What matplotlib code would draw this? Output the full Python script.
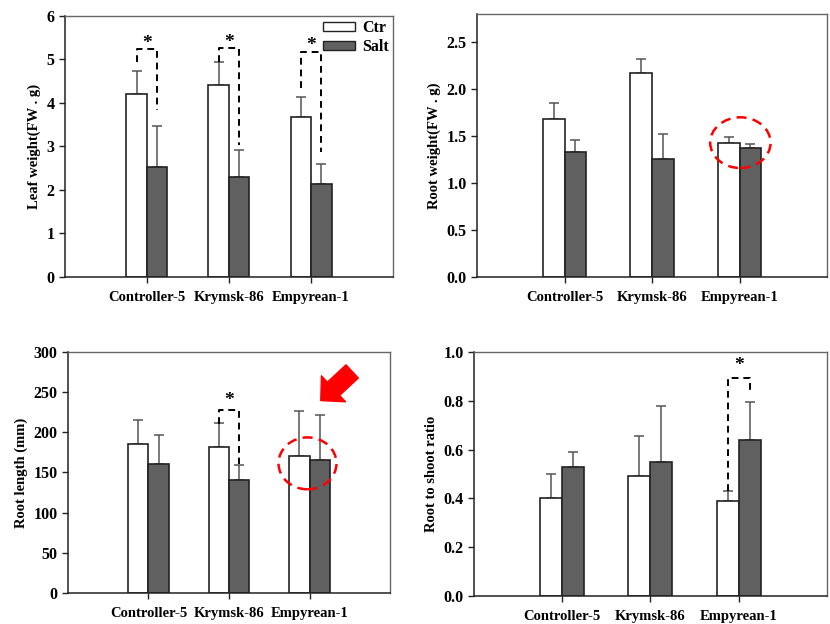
import numpy as np
import matplotlib.pyplot as plt
from matplotlib.patches import Ellipse, Patch

plt.rcParams['font.family'] = ['Liberation Serif', 'DejaVu Serif']
plt.rcParams['font.weight'] = 'bold'

cultivars = ['Controller-5', 'Krymsk-86', 'Empyrean-1']
treatments = ['Ctr', 'Salt']

# leaf weight (FW g)
leaf_ctr = [4.20, 4.41, 3.67]
leaf_ctr_sd = [0.54, 0.54, 0.47]
leaf_salt = [2.53, 2.30, 2.14]
leaf_salt_sd = [0.95, 0.61, 0.46]

# root weight (FW g)
rootw_ctr = [1.68, 2.17, 1.43]
rootw_ctr_sd = [0.17, 0.15, 0.06]
rootw_salt = [1.33, 1.26, 1.37]
rootw_salt_sd = [0.13, 0.26, 0.05]

# root length (mm)
rootl_ctr = [185, 182, 170]
rootl_ctr_sd = [30, 29, 57]
rootl_salt = [161, 141, 166]
rootl_salt_sd = [36, 18, 56]

# root to shoot ratio
ratio_ctr = [0.40, 0.49, 0.39]
ratio_ctr_sd = [0.10, 0.165, 0.042]
ratio_salt = [0.527, 0.55, 0.641]
ratio_salt_sd = [0.065, 0.229, 0.153]

# significance brackets: (group, left bottom, top, right bottom)
leaf_sig = [(0, 4.94, 5.24, 3.84), (1, 4.95, 5.26, 3.03), (2, 4.34, 5.18, 2.88)]
rootl_sig = [(1, 210, 227.6, 161)]
ratio_sig = [(2, 0.432, 0.894, 0.83)]

x = np.arange(1, 4)
w = 0.25
salt_color = '#606060'
err_color = '#555555'


def draw_panel(ax, ctr, ctr_sd, salt, salt_sd, ylim, yticks, fmt, ylabel):
    ax.bar(x - w / 2, ctr, w, color='white', edgecolor='#222222', linewidth=1.2,
           label='Ctr', zorder=2)
    ax.bar(x + w / 2, salt, w, color=salt_color, edgecolor='#222222', linewidth=1.2,
           label='Salt', zorder=2)
    ax.errorbar(x - w / 2, ctr, yerr=[np.zeros(3), ctr_sd], fmt='none',
                ecolor=err_color, elinewidth=1.1, capsize=3.6, capthick=1.1, zorder=1)
    ax.errorbar(x + w / 2, salt, yerr=[np.zeros(3), salt_sd], fmt='none',
                ecolor=err_color, elinewidth=1.1, capsize=3.6, capthick=1.1, zorder=1)
    ax.set_xlim(0, 4)
    ax.set_ylim(*ylim)
    ax.set_yticks(yticks)
    ax.set_yticklabels([fmt.format(t) for t in yticks])
    ax.set_xticks(x)
    ax.set_xticklabels(cultivars)
    ax.tick_params(axis='both', direction='out', length=4, width=1, labelsize=11.5,
                   color='#222222')
    ax.tick_params(axis='x', pad=6, labelsize=10.5)
    ax.set_ylabel(ylabel, fontsize=10.5, fontweight='bold')
    for s in ['left', 'bottom']:
        ax.spines[s].set_color('#222222')
        ax.spines[s].set_linewidth(1.1)
    for s in ['top', 'right']:
        ax.spines[s].set_color('#666666')
        ax.spines[s].set_linewidth(1.0)


def draw_sig(ax, sigs, star_off):
    for g, yl, yt, yr in sigs:
        xl = x[g] - w / 2
        xr = x[g] + w / 2
        ax.plot([xl, xl, xr, xr], [yl, yt, yt, yr], color='black', lw=1.4,
                linestyle=(0, (3.5, 2.5)), zorder=3)
        ax.text((xl + xr) / 2, yt + star_off, '*', ha='center', va='center',
                fontsize=14, fontweight='bold')


fig = plt.figure(figsize=(8.3, 6.24), dpi=100)
ax1 = fig.add_axes([0.0783, 0.5561, 0.3952, 0.4183])
ax2 = fig.add_axes([0.5747, 0.5561, 0.4217, 0.4215])
ax3 = fig.add_axes([0.0819, 0.0497, 0.388, 0.3862])
ax4 = fig.add_axes([0.571, 0.0449, 0.4253, 0.391])

draw_panel(ax1, leaf_ctr, leaf_ctr_sd, leaf_salt, leaf_salt_sd, (0, 6),
           np.arange(0, 7, 1), '{:.0f}', 'Leaf weight(FW . g)')
draw_sig(ax1, leaf_sig, 0.13)
handles = [Patch(facecolor='white', edgecolor='#222222', label='Ctr'),
           Patch(facecolor=salt_color, edgecolor='#222222', label='Salt')]
ax1.legend(handles=handles, loc='upper right', bbox_to_anchor=(1.0, 1.0),
           frameon=False, fontsize=11.5, handlelength=2.0, handleheight=0.5,
           handletextpad=0.45, labelspacing=0.2, borderpad=0.1, borderaxespad=0.15)

draw_panel(ax2, rootw_ctr, rootw_ctr_sd, rootw_salt, rootw_salt_sd, (0, 2.8),
           np.arange(0, 2.51, 0.5), '{:.1f}', 'Root weight(FW . g)')
ax2.add_patch(Ellipse((3.01, 1.43), 0.69, 0.54, fill=False, edgecolor='red',
                      lw=1.8, linestyle=(0, (4, 2.5)), zorder=4))

draw_panel(ax3, rootl_ctr, rootl_ctr_sd, rootl_salt, rootl_salt_sd, (0, 300),
           np.arange(0, 301, 50), '{:.0f}', 'Root length (mm)')
draw_sig(ax3, rootl_sig, 12)
ax3.add_patch(Ellipse((2.975, 161.4), 0.72, 64.6, fill=False, edgecolor='red',
                      lw=1.8, linestyle=(0, (4, 2.5)), zorder=4))
ax3.annotate('', xy=(3.14, 239.5), xytext=(3.53, 275.8),
             arrowprops=dict(arrowstyle='simple,head_length=1.25,head_width=2.55,tail_width=1.3',
                             color='red', shrinkA=0, shrinkB=0, mutation_scale=10))

draw_panel(ax4, ratio_ctr, ratio_ctr_sd, ratio_salt, ratio_salt_sd, (0, 1.0),
           np.arange(0, 1.01, 0.2), '{:.1f}', 'Root to shoot ratio')
draw_sig(ax4, ratio_sig, 0.05)

fig.savefig('out.png', dpi=100)
